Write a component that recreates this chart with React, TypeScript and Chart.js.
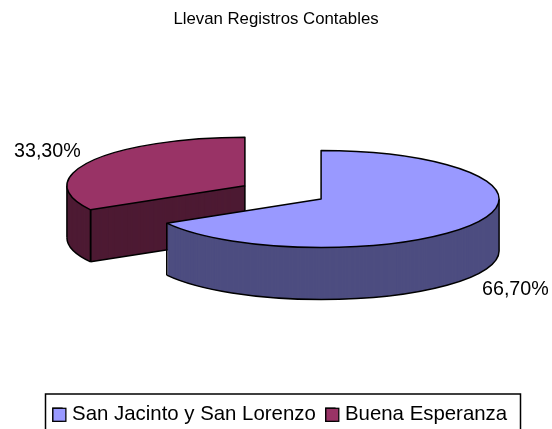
import React, { useEffect, useRef } from "react";
import { Chart, registerables } from "chart.js";

Chart.register(...registerables);

const categories = ["San Jacinto y San Lorenzo", "Buena Esperanza"];
const seriesValues = [66.7, 33.3];
const topColors = ["#9999FF", "#993366"];
const wallColors = ["#4D4D80", "#4D1A33"];
const labelPositions = [
  { x: 482, y: 294.5 },
  { x: 14, y: 157 },
];
const chartTitle = "Llevan Registros Contables";

const FONT = "'Liberation Sans', Arial, sans-serif";
const PIE_CX = 283;
const PIE_CY = 192.35;
const RADIUS = 178;
const SQUASH = 0.2725;
const EXPLODE_X = 44;
const EXPLODE_Y = 13.3;
const DEPTH = 52;
const SWATCH = 13;

const pie3d = {
  id: "pie3d",
  afterLayout(chart: any) {
    chart.titleBlock.left -= 4;
    chart.titleBlock.right -= 4;
  },
  beforeDatasetsDraw(chart: any) {
    const ctx = chart.ctx;
    const meta = chart.getDatasetMeta(0);
    const order = meta.data.map((_: any, i: number) => i).reverse();
    for (const i of order) {
      const arc = meta.data[i];
      const { startAngle: s, endAngle: e } = arc;
      const mid = (s + e) / 2;
      const cx = PIE_CX + Math.cos(mid) * EXPLODE_X;
      const cy = PIE_CY + Math.sin(mid) * EXPLODE_Y;
      const orig = arc.options;
      const paint = (color: string, dy: number) => {
        arc.options = { ...orig, backgroundColor: color, borderWidth: 0, offset: 0 };
        ctx.save();
        ctx.translate(cx, cy + dy);
        ctx.scale(1, SQUASH);
        ctx.translate(-arc.x, -arc.y);
        arc.draw(ctx);
        ctx.restore();
      };
      for (let d = DEPTH; d >= 1; d--) paint(wallColors[i], d);

      ctx.save();
      ctx.strokeStyle = "#000";
      ctx.lineWidth = 1.5;
      ctx.lineJoin = "round";
      const rim = (a: number) => ({
        x: cx + Math.cos(a) * RADIUS,
        y: cy + Math.sin(a) * RADIUS * SQUASH,
      });
      const vertical = (x: number, y: number) => {
        ctx.beginPath();
        ctx.moveTo(x, y);
        ctx.lineTo(x, y + DEPTH);
        ctx.stroke();
      };
      const from = Math.max(s, 0);
      const to = Math.min(e, Math.PI);
      if (to > from) {
        ctx.beginPath();
        ctx.ellipse(cx, cy + DEPTH, RADIUS, RADIUS * SQUASH, 0, from, to);
        ctx.stroke();
        const a = rim(from);
        const b = rim(to);
        vertical(a.x, a.y);
        vertical(b.x, b.y);
      }
      const edge = (a: number) => {
        const p = rim(a);
        vertical(cx, cy);
        vertical(p.x, p.y);
        ctx.beginPath();
        ctx.moveTo(cx, cy + DEPTH);
        ctx.lineTo(p.x, p.y + DEPTH);
        ctx.stroke();
      };
      if (Math.sin(s - Math.PI / 2) > 0.01) edge(s);
      if (Math.sin(e + Math.PI / 2) > 0.01) edge(e);
      ctx.restore();

      paint(topColors[i], 0);
      arc.options = orig;

      ctx.save();
      ctx.strokeStyle = "#000";
      ctx.lineWidth = 1.5;
      ctx.lineJoin = "round";
      ctx.beginPath();
      ctx.moveTo(cx, cy);
      ctx.ellipse(cx, cy, RADIUS, RADIUS * SQUASH, 0, s, e);
      ctx.closePath();
      ctx.stroke();
      ctx.restore();
    }
    return false;
  },
  afterDraw(chart: any) {
    const ctx = chart.ctx;
    ctx.save();
    ctx.fillStyle = "#000";
    ctx.font = `19.7px ${FONT}`;
    ctx.textAlign = "left";
    ctx.textBaseline = "alphabetic";
    seriesValues.forEach((v, i) => {
      const text = v.toFixed(2).replace(".", ",") + "%";
      ctx.fillText(text, labelPositions[i].x, labelPositions[i].y);
    });
    ctx.strokeStyle = "#000";
    ctx.lineWidth = 1.5;
    ctx.strokeRect(45.5, 394, 475, 40);
    // Legend swatches are wider than the space the legend leaves before its text.
    ctx.lineWidth = 1.25;
    chart.legend.legendHitBoxes.forEach((box: any, i: number) => {
      ctx.fillStyle = topColors[i];
      ctx.fillRect(box.left, box.top + (box.height - SWATCH) / 2, SWATCH, SWATCH);
      ctx.strokeRect(box.left, box.top + (box.height - SWATCH) / 2, SWATCH, SWATCH);
    });
    ctx.restore();
  },
};

export default function App() {
  const ref = useRef<HTMLCanvasElement>(null);
  useEffect(() => {
    const chart = new Chart(ref.current as HTMLCanvasElement, {
      type: "pie",
      data: {
        labels: categories,
        datasets: [
          {
            data: seriesValues,
            backgroundColor: topColors,
            borderColor: "#000",
            borderWidth: 1.5,
          },
        ],
      },
      options: {
        responsive: false,
        animation: false,
        radius: RADIUS,
        layout: { padding: { left: 8, right: 0, top: 0, bottom: -6 } },
        plugins: {
          title: {
            display: true,
            text: chartTitle,
            color: "#000",
            font: { family: FONT, size: 16.8, weight: "normal" },
            padding: { top: 9, bottom: 10 },
          },
          legend: {
            display: true,
            position: "bottom",
            labels: {
              color: "#000",
              font: { family: FONT, size: 20.4 },
              boxWidth: 9,
              boxHeight: SWATCH,
              padding: 10,
            },
          },
          tooltip: { enabled: false },
        },
      },
      plugins: [pie3d],
    } as any);
    return () => chart.destroy();
  }, []);
  return (
    <canvas
      ref={ref}
      width={552}
      height={429}
      style={{ position: "fixed", left: 0, top: 0, display: "block", width: 552, height: 429 }}
    />
  );
}
